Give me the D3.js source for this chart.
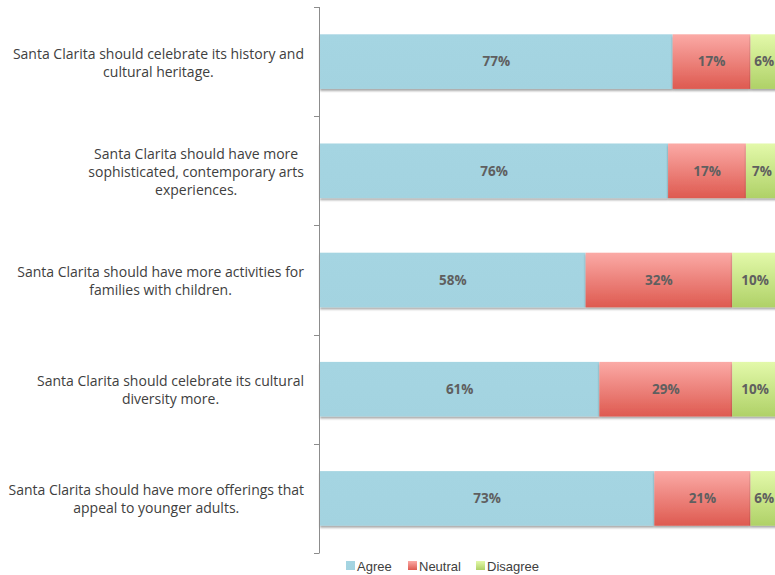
<!DOCTYPE html>
<html><head><meta charset="utf-8">
<script src="https://cdn.jsdelivr.net/npm/d3@7"></script>
<style>
html,body{margin:0;padding:0;background:#fff;}
svg{display:block;font-family:"Liberation Sans",Arial,sans-serif;}
</style></head>
<body>
<svg id="chart" width="775" height="575"></svg>
<script>
const categoryLines = [
  ["Santa Clarita should celebrate its history and", "cultural heritage."],
  ["Santa Clarita should have more", "sophisticated, contemporary arts", "experiences."],
  ["Santa Clarita should have more activities for", "families with children."],
  ["Santa Clarita should celebrate its cultural", "diversity more."],
  ["Santa Clarita should have more offerings that", "appeal to younger adults."]
];
const seriesNames = ["Agree", "Neutral", "Disagree"];
const agree    = [77, 76, 58, 61, 73];
const neutral  = [17, 17, 32, 29, 21];
const disagree = [6, 7, 10, 10, 6];

const svg = d3.select("#chart");
const defs = svg.append("defs");
const grads = [
  {id: "gAgree", top: "#a5d5e2", bot: "#a3d3e0"},
  {id: "gNeutral", top: "#fbaaa6", bot: "#de5a50"},
  {id: "gDisagree", top: "#e3f9aa", bot: "#afd167"}
];
grads.forEach(g => {
  const lg = defs.append("linearGradient").attr("id", g.id).attr("x1", 0).attr("y1", 0).attr("x2", 0).attr("y2", 1);
  lg.append("stop").attr("offset", "0%").attr("stop-color", g.top);
  lg.append("stop").attr("offset", "100%").attr("stop-color", g.bot);
});
const f = defs.append("filter").attr("id", "shadow").attr("x", "-5%").attr("y", "-20%").attr("width", "110%").attr("height", "150%");
f.append("feDropShadow").attr("dx", 0).attr("dy", 2).attr("stdDeviation", 1.3).attr("flood-color", "#000").attr("flood-opacity", 0.35);

const idx = d3.range(categoryLines.length);
const y = d3.scaleBand().domain(idx).range([7, 553]).paddingInner(0.5).paddingOuter(0.25);
const yAxisScale = d3.scaleBand().domain(idx).range([7, 553]);
const x = d3.scaleLinear().domain([0, 100]).range([320, 778]);

const rows = idx.map(i => {
  const vals = [agree[i], neutral[i], disagree[i]];
  let acc = 0;
  return vals.map((v, k) => { const s = {i, k, x0: acc, x1: acc + v, v}; acc += v; return s; });
});

const fills = ["url(#gAgree)", "url(#gNeutral)", "url(#gDisagree)"];
const segs = rows.flat();

const barG = svg.append("g");
barG.selectAll("rect").data(segs).join("rect")
  .attr("x", d => x(d.x0))
  .attr("y", d => y(d.i))
  .attr("width", d => x(d.x1) - x(d.x0))
  .attr("height", y.bandwidth())
  .attr("fill", d => fills[d.k])
  .attr("filter", "url(#shadow)");

svg.append("g").selectAll("text").data(segs).join("text")
  .attr("x", d => (x(d.x0) + x(d.x1)) / 2)
  .attr("y", d => y(d.i) + y.bandwidth() / 2)
  .attr("dy", "0.35em")
  .attr("text-anchor", "middle")
  .attr("font-family", "'Open Sans', sans-serif")
  .attr("font-size", 13.5)
  .attr("font-weight", "bold")
  .attr("fill", "#5f5f5f")
  .text(d => d.v + "%");

// axis
const axisG = svg.append("g");
axisG.append("line").attr("x1", 319.5).attr("x2", 319.5).attr("y1", 7).attr("y2", 553).attr("stroke", "#8c8c8c").attr("stroke-width", 1);
const tickYs = idx.map(i => yAxisScale(i)).concat([553]);
axisG.selectAll("line.tick").data(tickYs).join("line").attr("class", "tick")
  .attr("x1", 314).attr("x2", 319.5).attr("y1", d => Math.round(d) + 0.5).attr("y2", d => Math.round(d) + 0.5)
  .attr("stroke", "#8c8c8c");

// category labels
const labG = svg.append("g");
idx.forEach(i => {
  const lines = categoryLines[i];
  const g = labG.append("g");
  const cy = y(i) + y.bandwidth() / 2 + 1;
  const lh = 18;
  const texts = g.selectAll("text").data(lines).join("text")
    .attr("font-family", "'Open Sans', sans-serif")
    .attr("font-size", 14)
    .attr("fill", "#404040")
    .attr("text-anchor", "middle")
    .attr("y", (d, j) => cy + (j - (lines.length - 1) / 2) * lh)
    .attr("dy", "0.35em")
    .text(d => d);
  let maxW = 0;
  texts.each(function(){ maxW = Math.max(maxW, this.getComputedTextLength()); });
  texts.attr("x", 304 - maxW / 2);
});

// legend
const legX = [346, 408, 476];
const leg = svg.append("g");
seriesNames.forEach((n, k) => {
  leg.append("rect").attr("x", legX[k]).attr("y", 561).attr("width", 9).attr("height", 9).attr("fill", fills[k]);
  leg.append("text").attr("x", legX[k] + 11).attr("y", 566).attr("dy", "0.35em")
    .attr("font-size", 13).attr("fill", "#404040").text(n);
});
</script>
</body></html>
